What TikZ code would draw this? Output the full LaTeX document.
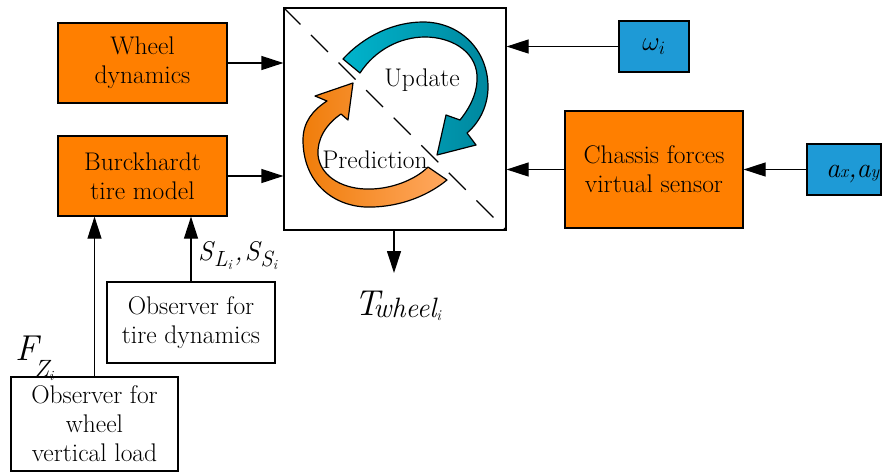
\RequirePackage{fix-cm}
\documentclass[tikz,border=0pt]{standalone}
\usetikzlibrary{arrows.meta}
\definecolor{boxorange}{HTML}{FF7F00}
\definecolor{boxblue}{HTML}{1E9AD6}
\definecolor{tealL}{HTML}{00B4CC}
\definecolor{tealD}{HTML}{00879E}
\definecolor{orD}{HTML}{F07D0A}
\definecolor{orL}{HTML}{FFA860}
\newcommand{\itsz}[2]{{\fontsize{#1}{#1}\selectfont\itshape #2}}
\begin{document}
\begin{tikzpicture}[x=1pt,y=-1pt,
  bigfont/.style={font=\fontsize{25.5}{29}\selectfont},
  blk/.style={draw=black, line width=1.2pt, inner sep=0pt, align=center, bigfont},
  obox/.style={blk, fill=boxorange},
  bbox/.style={blk, fill=boxblue, font=\fontsize{27}{30}\selectfont},
  wbox/.style={blk, fill=white},
  lab/.style={anchor=base west, inner sep=0pt},
  arr/.style={line width=1.2pt, -{Triangle[length=22pt,width=14pt]}},
  cyc/.style={draw=black, line width=1.2pt, line join=round}]
\useasboundingbox (0,0) rectangle (882,472);

% blocks
\node[obox, minimum width=169pt, minimum height=80pt] (wheel) at (142.5,63) {Wheel\\dynamics};
\node[obox, minimum width=169pt, minimum height=80pt] (burck) at (142.5,176) {Burckhardt\\tire model};
\node[wbox, minimum width=222pt, minimum height=222pt] (main) at (395,119) {};
\node[bbox, minimum width=70pt, minimum height=51pt] (omega) at (654,46.5) {$\omega_i$};
\node[obox, minimum width=178pt, minimum height=117pt] (chassis) at (654,169.5) {Chassis forces\\virtual sensor};
\node[bbox, minimum width=74pt, minimum height=51pt] (axay) at (844,169.5) {};
\node[lab] (axlab) at (826,177) {\itsz{28}{a}\itsz{18}{x}\itsz{28}{,}\itsz{28}{a}\itsz{18}{y}};
\node[wbox, minimum width=168pt, minimum height=81pt] (obstire) at (191,322.5) {Observer for\\tire dynamics};
\node[wbox, minimum width=167pt, minimum height=94pt] (obswheel) at (94.5,424) {Observer for\\wheel\\vertical load};

% cyclic arrows
\path[cyc, left color=tealL, right color=tealD]
  (343,59) .. controls (365,35) and (395,22) .. (423,22)
  .. controls (460,22) and (488,50) .. (488,87)
  .. controls (488,105) and (480,122) .. (467,133)
  -- (476,145) -- (437,155) -- (446,115) -- (460,120)
  .. controls (472,105) and (478,90) .. (477,75)
  .. controls (475,50) and (450,37) .. (425,37)
  .. controls (400,37) and (375,50) .. (360,73) -- cycle;
\path[cyc, left color=orD, right color=orL]
  (447,180) .. controls (425,198) and (395,208) .. (365,207)
  .. controls (330,205) and (303,180) .. (303,140)
  .. controls (303,122) and (313,110) .. (327,101)
  -- (315,96) -- (353,83) -- (348,120) -- (341,114)
  .. controls (325,125) and (317,140) .. (318,155)
  .. controls (320,175) and (340,188) .. (365,189)
  .. controls (390,190) and (415,180) .. (428,167) -- cycle;
\draw[line width=1.1pt, dash pattern=on 24pt off 15pt] (main.north west) -- (main.south east);
\node[bigfont] (upd) at (422,80) {Update};
\node[bigfont] (pred) at (375,160) {Prediction};

% connectors
\draw[arr] (wheel.east) -- (wheel.east -| main.west);
\draw[arr] (burck.east) -- (burck.east -| main.west);
\draw[arr] (omega.west) -- (omega.west -| main.east);
\draw[arr] (chassis.west) -- (chassis.west -| main.east);
\draw[arr] (axay.west) -- (chassis.east);
\coordinate (tend) at (394,273);
\draw[arr] (main.south -| tend) -- (tend);
\draw[arr] (obstire.north) -- (obstire.north |- burck.south);
\draw[arr] (obswheel.north) -- (obswheel.north |- burck.south);

% labels
\node[lab] (tlab) at (354,315) {\itsz{36}{T}\hspace{-6pt}\raisebox{-2pt}{\itsz{28}{wheel}}\raisebox{-5pt}{\itsz{15}{i}}};
\node[lab] (slab) at (198,260) {\itsz{27}{S}\hspace{1pt}\raisebox{-6pt}{\itsz{22}{L}}\raisebox{-9pt}{\itsz{14}{i}}\hspace{3pt}\itsz{27}{,}\hspace{2pt}\itsz{27}{S}\hspace{1pt}\raisebox{-6pt}{\itsz{22}{S}}\raisebox{-9pt}{\itsz{14}{i}}};
\node[lab] (flab) at (15,360) {\itsz{36}{F}\hspace{-4pt}\raisebox{-17pt}{\itsz{25}{Z}}\raisebox{-20pt}{\itsz{14}{i}}};
\end{tikzpicture}
\end{document}
